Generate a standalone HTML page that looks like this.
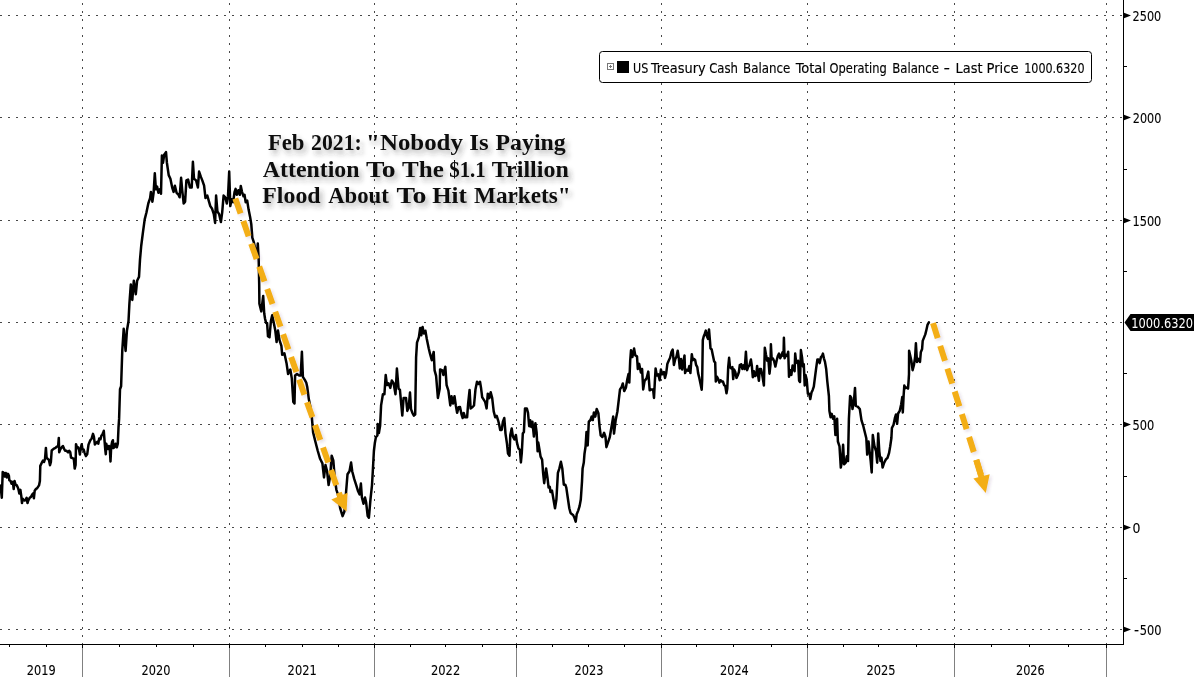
<!DOCTYPE html>
<html><head><meta charset="utf-8"><style>
html,body{margin:0;padding:0;background:#fff;}
body{width:1194px;height:677px;overflow:hidden;}
svg{display:block;}
.g{stroke:#484848;stroke-width:1;stroke-dasharray:2 6;shape-rendering:crispEdges;}
.gv{stroke:#484848;stroke-width:1;stroke-dasharray:2 6;stroke-dashoffset:-3;shape-rendering:crispEdges;}
.ar{stroke:#F0A81C;stroke-width:5.5;stroke-dasharray:15.5 8;}
text{font-family:"DejaVu Sans Condensed","DejaVu Sans",sans-serif;}
.yl{font-size:13.5px;fill:#000;stroke:#000;stroke-width:0.1px;}
.xl{font-size:13.5px;fill:#000;stroke:#000;stroke-width:0.1px;}
.lp{font-size:13.5px;fill:#fff;}
.lg{font-size:13.5px;fill:#000;stroke:#000;stroke-width:0.12px;}
.an text{font-family:"Liberation Serif",serif;font-weight:bold;font-size:22.3px;fill:#111;}
</style></head><body>
<svg width="1194" height="677" viewBox="0 0 1194 677">
<defs>
<filter id="tsh" x="-10%" y="-30%" width="120%" height="170%"><feGaussianBlur in="SourceAlpha" stdDeviation="2.5"/><feOffset dx="3" dy="4" result="b"/><feFlood flood-color="#303030" flood-opacity="0.35"/><feComposite in2="b" operator="in"/><feMerge><feMergeNode/><feMergeNode in="SourceGraphic"/></feMerge></filter>
<filter id="sh" x="-20%" y="-10%" width="140%" height="120%"><feGaussianBlur in="SourceAlpha" stdDeviation="1.5"/><feOffset dx="2" dy="2" result="b"/><feFlood flood-color="#503060" flood-opacity="0.15"/><feComposite in2="b" operator="in"/><feMerge><feMergeNode/><feMergeNode in="SourceGraphic"/></feMerge></filter>
</defs>
<rect width="1194" height="677" fill="#fff"/>
<line x1="0" y1="15.5" x2="1123" y2="15.5" class="g"/>
<line x1="0" y1="117.5" x2="1123" y2="117.5" class="g"/>
<line x1="0" y1="220.5" x2="1123" y2="220.5" class="g"/>
<line x1="0" y1="322.5" x2="1123" y2="322.5" class="g"/>
<line x1="0" y1="424.5" x2="1123" y2="424.5" class="g"/>
<line x1="0" y1="527.5" x2="1123" y2="527.5" class="g"/>
<line x1="0" y1="629.5" x2="1123" y2="629.5" class="g"/>
<line x1="82.5" y1="0" x2="82.5" y2="644" class="gv"/>
<line x1="229.5" y1="0" x2="229.5" y2="644" class="gv"/>
<line x1="374.5" y1="0" x2="374.5" y2="644" class="gv"/>
<line x1="516.5" y1="0" x2="516.5" y2="644" class="gv"/>
<line x1="661.5" y1="0" x2="661.5" y2="644" class="gv"/>
<line x1="807.5" y1="0" x2="807.5" y2="644" class="gv"/>
<line x1="954.5" y1="0" x2="954.5" y2="644" class="gv"/>
<line x1="1106.5" y1="0" x2="1106.5" y2="644" class="gv"/>
<path d="M0 485.4 L0.9 489 L1.8 497.8 L2.7 472.1 L4 473 L4.9 476.6 L5.8 473 L6.9 477.5 L8 473.9 L8.9 475.7 L9.3 480.1 L10.6 481 L11.5 483.7 L12.8 481.9 L13.7 489 L14.6 481 L15.5 484.5 L16.8 485.4 L17.7 487.2 L18.6 489.9 L19.3 493.4 L20.4 489.9 L21.3 496.1 L22 503.1 L22.6 498.7 L23.5 499.6 L24.6 500.5 L25.7 499.6 L26.6 497.8 L27.5 503.1 L28.3 500.5 L29.7 497.8 L31 496.9 L32.3 494.3 L33.2 493.4 L33.9 498.3 L34.7 490.7 L35.9 489 L37.2 488.1 L39 485.4 L39.9 481 L40.3 465.9 L41.8 462.7 L43 460.5 L44.1 461.9 L45 459 L45.9 447.9 L46.6 457.5 L47.8 459 L48.9 459.7 L50 465.3 L50.9 461.9 L51.7 450.5 L52.9 449.4 L54 448.6 L55.5 447.9 L57 446.4 L58.1 446.4 L58.8 437.9 L59.2 452.3 L60.3 449.4 L61.8 447.2 L62.9 446 L64 448.6 L65.1 450.8 L66.6 450.8 L68.1 452.3 L69.2 450.8 L70.3 452.3 L71 457.5 L72.5 458.2 L73.8 458.6 L74.7 468.6 L75.6 464.9 L76 444.2 L76.9 447.2 L78 447.2 L79.1 450.1 L79.9 454.5 L80.8 447.9 L81.7 444.2 L82.5 449.4 L83.6 449.4 L84.7 453.1 L85.9 456.1 L87.2 454.3 L88.5 444.6 L90.3 440.2 L91.7 438.4 L93 433.9 L93.9 436.6 L94.9 444.6 L96.1 442.8 L97.4 441.9 L98.3 443.7 L99.2 438.4 L100.5 439.3 L101.4 435.7 L102.3 434.8 L103 433.1 L103.8 430.8 L104.5 440.2 L105.2 449 L105.8 454.3 L106.3 443.7 L107.2 447.3 L108.2 449 L108.9 445.9 L109.8 449 L110.5 461.4 L111.2 446.4 L112.1 441.9 L112.9 440.2 L113.4 448.1 L114.3 447.3 L115.6 443.7 L116.8 447.3 L117.8 443.7 L118.5 427.7 L119.1 418.9 L120 389.2 L121.1 386.2 L122.3 350 L123.7 328.8 L125.6 351 L126.9 330.8 L128.5 321.2 L129.4 303.8 L130.8 284.6 L132.3 300 L133.8 280.8 L135.8 294.2 L137.1 280.8 L139 276.9 L140 259.6 L141.2 246 L143 231.8 L144.7 219.4 L146.5 212.3 L148.3 203.5 L150.1 198.1 L150.9 191.9 L152.4 201.7 L153.6 192.8 L154.8 173.3 L155.9 189.3 L157.1 186.6 L158.4 192.8 L159.8 189.3 L161 193.7 L161.9 155.6 L163 162.7 L164.2 154.7 L166 152.1 L166.9 162.7 L168.7 175.1 L170.4 178.7 L172.2 187.5 L173.6 191.9 L174.9 185.7 L176.6 192.8 L178.4 194.6 L179.6 197.3 L181.1 177.8 L182.3 191 L183.7 203.5 L185.1 201.7 L186.4 180.4 L188.1 179.5 L189.9 187.5 L191.7 187.5 L192.9 161.8 L194 178.7 L196.1 180.4 L197.9 187.5 L199.1 171.6 L200.9 176.9 L202.3 180.4 L204.1 185.7 L205.5 198.1 L207.3 195.5 L209 201.7 L210.3 206.1 L212.1 208.8 L213.8 214.1 L215.1 222.9 L216.1 195.5 L217.4 211.4 L219.1 214.1 L220.9 222.1 L222.2 212.3 L223.6 195.5 L225.3 197.3 L226.8 203.5 L228 196.4 L229.2 171.6 L230.3 206.1 L231.6 199.2 L233.1 202.2 L234.6 191.8 L235.6 188.9 L236.8 194.8 L238.3 190.3 L239.8 194.8 L240.8 185.9 L242 191.8 L243.5 196.3 L244.5 194.8 L245.7 202.2 L247.2 200.7 L248.6 209.6 L250.1 216.9 L251.3 224.3 L252.3 237.6 L253.8 242.1 L255.3 249.5 L256.8 256.8 L257.8 243.5 L258.7 259.8 L259.2 285 L259.4 303.7 L261.3 311.4 L263.2 296 L264.2 313.3 L265.1 319 L266.1 322.9 L267.1 322.9 L268 336.3 L269.5 337.3 L270.9 321 L272.2 315.2 L273.8 322.9 L275.3 330.6 L276.6 342.1 L278 330.6 L279.5 340.1 L281.4 345.9 L282.2 354.8 L284.4 353.3 L286.6 363.6 L288.1 374 L290.3 369.5 L291.8 378.4 L293.3 402 L294.5 403.5 L295.1 375.5 L297 374 L299.2 375.5 L300.7 375.5 L301.9 351.8 L302.9 376.9 L304.8 379.9 L306.3 382.8 L307.3 387.3 L308.8 399.1 L310.3 406.5 L311.8 416.8 L313.1 432.4 L315.4 441.7 L317.8 451 L320.1 458.8 L322.4 463.4 L324 477.4 L325.5 465 L327.1 471.2 L328.6 485.1 L330.2 475.8 L331.7 455.7 L333.3 460.3 L334.8 478.9 L336.4 489.8 L337.9 494.4 L340.2 508.4 L342.6 516.1 L344.4 511.5 L346 492.9 L347.5 474.3 L349.5 471.2 L351.1 462.6 L352.2 471.2 L354.2 478.9 L356.2 485.1 L358.1 491.3 L359.6 494.4 L360.9 483.6 L361.9 497.5 L363.5 503.7 L365 497.5 L366.1 502.2 L367.7 516.1 L368.9 517.7 L370.5 499.1 L372 485.1 L372.8 471.2 L373.9 451 L374.8 443.3 L375.9 437.1 L377.4 435.5 L377.7 423.9 L378.9 433.1 L380.1 425.7 L381.1 405.4 L382.9 394.3 L384.4 394.3 L385.7 375 L387 385.1 L388.5 383.3 L390.3 387.9 L391.8 380.5 L393.6 383.3 L395.5 394.3 L396.9 368.5 L398.6 388.8 L399.9 389.7 L401 401.7 L402.3 415.6 L403.6 398 L406 398 L407.3 410.9 L408.7 407.3 L410 392.5 L411 409.1 L412.4 412.8 L413.9 415.6 L415.2 414.6 L416.1 357.4 L417 342.7 L418.9 337.1 L420.2 327.9 L421.3 335.3 L422.6 327 L423.9 333.5 L425.4 330.7 L426.8 339 L428.7 348.2 L430 353.7 L431.8 360.2 L433.7 351.9 L434.6 370.4 L436.1 375.9 L437.9 398 L439.7 388.8 L440.1 369.4 L442.3 370.4 L443.4 375 L445.3 366.7 L446.6 385.1 L448.4 390.6 L450.3 405.4 L451.5 396.2 L453 403.6 L454.5 396.2 L455.8 405.4 L457.1 412.8 L458.6 407.3 L460 407 L461.5 414.3 L462.7 418 L463.7 412.9 L465.2 417.3 L467.1 417.3 L468.1 404 L469.6 390 L470.6 408.4 L472.6 407 L474 405.5 L475.5 389.2 L477 381.8 L478.5 384 L480 381.8 L481 387.7 L482.2 397.3 L483.7 399.6 L485.1 401.8 L486.6 408.4 L487.8 393.7 L489.3 398.1 L490.7 392.2 L492.2 398.1 L493.7 411.4 L495.2 417.3 L496.7 415.8 L498.1 420.3 L499.2 424.7 L500.2 429.9 L501.7 429.9 L502.9 421.7 L504.3 418 L505.5 433.6 L507 443.9 L508 453.5 L509.5 455.7 L510.3 435 L511.7 428.4 L512.9 436.5 L514.4 439.5 L515.9 435 L516.9 442.4 L518.4 448.3 L519.9 449.8 L520.9 462.4 L521.8 452.8 L522.8 433.6 L523.9 432.1 L525 408.4 L526.8 408.4 L528 412.9 L529.2 426.2 L530.2 420.3 L531.2 426.9 L532.4 421.7 L533.9 436.5 L535.4 423.2 L536.6 432.1 L537.6 451.3 L538.3 442.6 L539.4 449.2 L540.6 456.6 L542.1 459.6 L543.1 472.9 L544.2 483.2 L546.1 468.4 L547.6 478.8 L548.6 487.6 L549.8 486.9 L550.5 492.1 L552 490.6 L553.5 499.5 L555 508.3 L556.4 499.5 L557.9 472.9 L559.4 468.4 L560.9 461.8 L562.3 468.4 L563.8 484.7 L565.3 484.7 L566.3 487.6 L567.8 498 L569.3 508.3 L570.5 512.8 L572 514.3 L573.1 515 L574.2 517.2 L575.7 521.6 L576.7 514.3 L578.2 510.6 L579.6 506.1 L580.8 499.5 L582 481.7 L582.6 468.4 L583.8 462.5 L584.5 453.7 L585.6 446.3 L586.5 431.9 L587.7 445.5 L588.8 421.7 L590.5 420 L591.6 416.6 L592.8 420 L593.9 412.4 L595.3 416.6 L596.7 409 L598.4 413.2 L599.6 426.8 L600.7 435.3 L602.4 437 L604.1 432.8 L605.5 437 L606.4 447.2 L608.1 442.1 L609.8 437 L611.5 426.8 L613.2 416.6 L614 433.6 L615.7 420 L617.4 411.5 L618.8 399.6 L620 389.4 L621.7 386.9 L622.8 383.5 L624.2 391.1 L625.9 387.7 L627.3 379.2 L628.5 374.1 L629.3 382.6 L630.2 360.5 L631 350.3 L632.4 357.1 L634.1 348.6 L635.3 355.4 L637 356.3 L637.8 369 L639.2 363.9 L640.9 372.4 L642.1 369 L643.2 389.4 L644.6 380.9 L646.6 378.4 L648.3 371.6 L649.7 390.3 L651.4 389.4 L653.1 389.4 L654 397.9 L654.8 382.6 L655.6 368.4 L656.8 375.5 L658.3 374.3 L659.7 380.2 L660.9 369.6 L662.3 374.3 L663.9 372 L665 377.9 L666.2 373.1 L667.4 363.7 L668.9 360.2 L670.1 357.8 L671.5 351.9 L672.7 349.5 L673.9 364.9 L675.3 359 L676.5 356.6 L677.7 350.7 L678.9 359 L679.8 368.4 L681 359 L682.2 369.6 L683.3 362.5 L684.5 355.4 L685.1 373.1 L686.3 369.6 L688.1 370.8 L689.3 366.1 L690.4 373.1 L691.8 354.3 L692.8 360.2 L694 359 L695.2 360.2 L696.1 364.9 L697.3 367.2 L698.1 373.1 L699.3 377.9 L700.5 383.8 L701.7 389.7 L702.2 379.1 L702.8 340.1 L703.7 336.5 L704.6 334.2 L705.8 330.6 L707 336.5 L708.1 338.9 L709 329.4 L709.9 340.1 L710.5 348.3 L711.7 349.5 L712.9 355.4 L714.1 361.3 L715.2 362.5 L715.8 381.4 L717 376.7 L718.2 379.1 L719.4 382.6 L720.5 380.2 L721.7 381.4 L722.9 381.4 L724.1 385 L725.3 386.1 L726.5 393.2 L727.3 388.5 L728.2 367.2 L729.1 357.8 L730 367.2 L731.2 368.4 L732.4 367.2 L733.2 379.1 L734.1 369.6 L735.3 372 L736.5 377.9 L737.7 375.5 L738.9 372 L739.8 364.9 L740.6 366.6 L741.2 364.3 L742.4 369 L743.5 365.4 L744.7 369 L745.9 351.8 L747.1 370.2 L748.3 366.6 L749.4 365.4 L750.9 359.5 L751.8 365.4 L752.8 377.2 L753.9 371.3 L755.1 376.1 L756.3 374.9 L757.1 366 L758 374.9 L758.9 380.8 L759.8 369 L761 369 L761.8 372.5 L762.8 378.4 L763.9 385.5 L764.8 347.7 L766 354.8 L767.2 360.7 L768.3 358.3 L769.5 373.7 L770.5 364.3 L770.9 344.2 L771.7 359.5 L772.8 358.3 L774 360.7 L775.4 366.6 L776.6 360.7 L777.8 356 L779 353.6 L780.2 358.3 L781.3 356 L782.5 352.4 L783.5 356 L783.9 337.7 L784.6 358.3 L786.1 354.8 L787.2 356 L788.2 351.8 L789 376.7 L790.2 370.2 L791.4 374.9 L792.6 365.4 L793.7 367.8 L794.6 371.3 L795.2 353.6 L796.1 361.9 L797.3 363.1 L798.1 360.7 L799.1 380.8 L800 382 L800.9 350.1 L802 357.2 L803 366.6 L803.8 364.3 L804.7 385.5 L805.5 374.9 L806.7 379.6 L807.9 393.8 L809.1 393.8 L810.3 399.1 L811.5 392.6 L812.6 390.2 L813.8 386.7 L815 377.2 L816.2 367.8 L817.4 359.5 L818.5 359.5 L819.7 363.1 L820.9 357.2 L822.1 356 L822.9 353.6 L823.9 358.3 L825 361.9 L826.2 369 L827.3 381.4 L828.9 396 L829.4 410.7 L830.6 417.2 L831.7 413.9 L833 418.8 L834.3 416.3 L835.4 435 L837.1 418.8 L837.9 441.5 L839.5 446.4 L840.8 467.6 L842 461.1 L843.1 444.8 L844.1 464.3 L845.7 462.7 L846.8 456.2 L848 461.1 L848.9 418.8 L850.1 396 L851.2 397.6 L852.5 409 L853.8 402.5 L855 387.9 L855.8 405.8 L857.7 406.6 L859.8 409 L861.5 420.4 L863.1 425.3 L864.7 431.8 L866.3 438.3 L867.2 454.6 L868.5 441.5 L869.6 451.3 L870.7 461.1 L871.7 472.4 L872.8 435 L874.5 446.4 L876.1 451.3 L877.2 462.7 L878.2 433.4 L879.3 451.3 L880.5 461.1 L881.5 457.8 L882.6 467.6 L884.2 462.7 L885.9 459.4 L887.5 457.8 L889.1 452.9 L890.2 446.4 L891.4 438 L891.9 428 L893.5 424.9 L895 417.6 L896 414.5 L897.1 423.8 L898.1 413.5 L899.7 410.9 L901.2 404.2 L902.3 396.9 L902.8 412.5 L903.6 395.9 L904.3 385.5 L905.4 388.1 L906.7 387.6 L908 388.6 L908.5 382.4 L909 374.1 L909.1 350.7 L910.2 355.5 L911.3 360.4 L912.6 370.2 L913.9 365.3 L915.1 357.2 L915.9 343.3 L917 362 L918.3 358.8 L920 362 L920.8 352.3 L922.1 349 L922.7 340.9 L924 337.6 L925.3 334.4 L926.5 329.5 L927.6 324.6 L928.9 322.3" fill="none" stroke="#000" stroke-width="2.5" stroke-linejoin="round" stroke-linecap="round"/>
<g filter="url(#sh)">
<path d="M235.3 198.5L240.6 213.6M243.3 221.1L248.6 236.2M251.2 243.8L256.6 258.9M259.2 266.4L264.5 281.5M267.2 289L272.5 304.1M275.2 311.7L280.5 326.8M283.1 334.3L288.4 349.4M291.1 357L296.4 372.1M299.1 379.6L304.4 394.7M307 402.2L312.4 417.3M315 424.9L320.3 440M323 447.5L328.3 462.6M331 470.1L336.3 485.2M338.9 492.8L340.9 498.5" stroke="#F3AE18" stroke-width="6" fill="none"/>
<polygon points="331.3,499.6 347.6,492.8 346.6,511.6" fill="#F3AE18"/>
<path d="M933 323.1L937.7 338.1M940.2 345.9L945 360.9M947.4 368.7L952.2 383.6M954.7 391.5L959.4 406.4M961.9 414.2L966.6 429.2M969.1 437L973.8 452M976.3 459.8L981 474.8" stroke="#F3AE18" stroke-width="6" fill="none"/>
<line x1="976.3" y1="459.8" x2="981.4" y2="477" stroke="#F3AE18" stroke-width="6"/>
<polygon points="973.4,478.4 989.7,474.2 985.8,493" fill="#F3AE18"/>
</g>
<line x1="1123.5" y1="0" x2="1123.5" y2="645" stroke="#000" stroke-width="1"/>
<line x1="0" y1="644.5" x2="1124" y2="644.5" stroke="#000" stroke-width="1"/>
<polygon points="1124,12.7 1131,15.5 1124,18.3" fill="#000"/>
<text x="1132.57" y="20.8" class="yl" textLength="28.67" lengthAdjust="spacingAndGlyphs">2500</text>
<polygon points="1124,114.7 1131,117.5 1124,120.3" fill="#000"/>
<text x="1132.78" y="122.8" class="yl" textLength="28.56" lengthAdjust="spacingAndGlyphs">2000</text>
<polygon points="1124,217.7 1131,220.5 1124,223.3" fill="#000"/>
<text x="1132.46" y="225.8" class="yl" textLength="28.89" lengthAdjust="spacingAndGlyphs">1500</text>
<polygon points="1124,421.7 1131,424.5 1124,427.3" fill="#000"/>
<text x="1132.42" y="429.8" class="yl" textLength="21.73" lengthAdjust="spacingAndGlyphs">500</text>
<polygon points="1124,524.7 1131,527.5 1124,530.3" fill="#000"/>
<text x="1132.58" y="532.8" class="yl" textLength="7.94" lengthAdjust="spacingAndGlyphs">0</text>
<polygon points="1124,626.7 1131,629.5 1124,632.3" fill="#000"/>
<text x="1134.01" y="634.8" class="yl" textLength="5.06" lengthAdjust="spacingAndGlyphs">-</text>
<text x="1139.72" y="634.8" class="yl" textLength="21.73" lengthAdjust="spacingAndGlyphs">500</text>
<line x1="1124" y1="66.5" x2="1127" y2="66.5" stroke="#000" stroke-width="1"/>
<line x1="1124" y1="169.5" x2="1127" y2="169.5" stroke="#000" stroke-width="1"/>
<line x1="1124" y1="271.5" x2="1127" y2="271.5" stroke="#000" stroke-width="1"/>
<line x1="1124" y1="373.5" x2="1127" y2="373.5" stroke="#000" stroke-width="1"/>
<line x1="1124" y1="476.5" x2="1127" y2="476.5" stroke="#000" stroke-width="1"/>
<line x1="1124" y1="578.5" x2="1127" y2="578.5" stroke="#000" stroke-width="1"/>
<line x1="9.5" y1="645" x2="9.5" y2="647" stroke="#000" stroke-width="1"/>
<line x1="46.5" y1="645" x2="46.5" y2="647" stroke="#000" stroke-width="1"/>
<line x1="119.5" y1="645" x2="119.5" y2="647" stroke="#000" stroke-width="1"/>
<line x1="156.5" y1="645" x2="156.5" y2="647" stroke="#000" stroke-width="1"/>
<line x1="193.5" y1="645" x2="193.5" y2="647" stroke="#000" stroke-width="1"/>
<line x1="265.5" y1="645" x2="265.5" y2="647" stroke="#000" stroke-width="1"/>
<line x1="302.5" y1="645" x2="302.5" y2="647" stroke="#000" stroke-width="1"/>
<line x1="338.5" y1="645" x2="338.5" y2="647" stroke="#000" stroke-width="1"/>
<line x1="410.5" y1="645" x2="410.5" y2="647" stroke="#000" stroke-width="1"/>
<line x1="445.5" y1="645" x2="445.5" y2="647" stroke="#000" stroke-width="1"/>
<line x1="482.5" y1="645" x2="482.5" y2="647" stroke="#000" stroke-width="1"/>
<line x1="552.5" y1="645" x2="552.5" y2="647" stroke="#000" stroke-width="1"/>
<line x1="588.5" y1="645" x2="588.5" y2="647" stroke="#000" stroke-width="1"/>
<line x1="624.5" y1="645" x2="624.5" y2="647" stroke="#000" stroke-width="1"/>
<line x1="696.5" y1="645" x2="696.5" y2="647" stroke="#000" stroke-width="1"/>
<line x1="733.5" y1="645" x2="733.5" y2="647" stroke="#000" stroke-width="1"/>
<line x1="771.5" y1="645" x2="771.5" y2="647" stroke="#000" stroke-width="1"/>
<line x1="843.5" y1="645" x2="843.5" y2="647" stroke="#000" stroke-width="1"/>
<line x1="878.5" y1="645" x2="878.5" y2="647" stroke="#000" stroke-width="1"/>
<line x1="916.5" y1="645" x2="916.5" y2="647" stroke="#000" stroke-width="1"/>
<line x1="991.5" y1="645" x2="991.5" y2="647" stroke="#000" stroke-width="1"/>
<line x1="1029.5" y1="645" x2="1029.5" y2="647" stroke="#000" stroke-width="1"/>
<line x1="1068.5" y1="645" x2="1068.5" y2="647" stroke="#000" stroke-width="1"/>
<line x1="82.5" y1="645" x2="82.5" y2="648" stroke="#000" stroke-width="1"/>
<line x1="82.5" y1="648" x2="82.5" y2="677" stroke="#808080" stroke-width="1"/>
<line x1="229.5" y1="645" x2="229.5" y2="648" stroke="#000" stroke-width="1"/>
<line x1="229.5" y1="648" x2="229.5" y2="677" stroke="#808080" stroke-width="1"/>
<line x1="374.5" y1="645" x2="374.5" y2="648" stroke="#000" stroke-width="1"/>
<line x1="374.5" y1="648" x2="374.5" y2="677" stroke="#808080" stroke-width="1"/>
<line x1="516.5" y1="645" x2="516.5" y2="648" stroke="#000" stroke-width="1"/>
<line x1="516.5" y1="648" x2="516.5" y2="677" stroke="#808080" stroke-width="1"/>
<line x1="661.5" y1="645" x2="661.5" y2="648" stroke="#000" stroke-width="1"/>
<line x1="661.5" y1="648" x2="661.5" y2="677" stroke="#808080" stroke-width="1"/>
<line x1="807.5" y1="645" x2="807.5" y2="648" stroke="#000" stroke-width="1"/>
<line x1="807.5" y1="648" x2="807.5" y2="677" stroke="#808080" stroke-width="1"/>
<line x1="954.5" y1="645" x2="954.5" y2="648" stroke="#000" stroke-width="1"/>
<line x1="954.5" y1="648" x2="954.5" y2="677" stroke="#808080" stroke-width="1"/>
<line x1="1106.5" y1="645" x2="1106.5" y2="648" stroke="#000" stroke-width="1"/>
<line x1="1106.5" y1="648" x2="1106.5" y2="677" stroke="#808080" stroke-width="1"/>
<text x="26.77" y="675" class="xl" textLength="28.82" lengthAdjust="spacingAndGlyphs">2019</text>
<text x="141.57" y="675" class="xl" textLength="28.77" lengthAdjust="spacingAndGlyphs">2020</text>
<text x="287.61" y="675" class="xl" textLength="29.09" lengthAdjust="spacingAndGlyphs">2021</text>
<text x="431.01" y="675" class="xl" textLength="29.18" lengthAdjust="spacingAndGlyphs">2022</text>
<text x="574.52" y="675" class="xl" textLength="28.93" lengthAdjust="spacingAndGlyphs">2023</text>
<text x="720.08" y="675" class="xl" textLength="28.65" lengthAdjust="spacingAndGlyphs">2024</text>
<text x="866.51" y="675" class="xl" textLength="29.03" lengthAdjust="spacingAndGlyphs">2025</text>
<text x="1015.97" y="675" class="xl" textLength="28.73" lengthAdjust="spacingAndGlyphs">2026</text>
<polygon points="1124.5,322.5 1130.5,314 1194,314 1194,331 1130.5,331" fill="#000"/>
<text x="1131.3" y="328" class="lp" textLength="61.8" lengthAdjust="spacingAndGlyphs">1000.6320</text>
<rect x="599.5" y="51.5" width="492" height="31" rx="3" ry="3" fill="#fff" stroke="#000" stroke-width="1"/>
<rect x="607.5" y="63.5" width="6" height="6" fill="none" stroke="#777" stroke-width="1"/>
<line x1="609" y1="66.5" x2="612" y2="66.5" stroke="#777"/><line x1="610.5" y1="65" x2="610.5" y2="68" stroke="#777"/>
<rect x="617" y="61" width="12" height="12" fill="#000"/>
<text x="633.00" y="72.8" class="lg" textLength="15.20" lengthAdjust="spacingAndGlyphs">US</text>
<text x="651.00" y="72.8" class="lg" textLength="54.70" lengthAdjust="spacingAndGlyphs">Treasury</text>
<text x="709.20" y="72.8" class="lg" textLength="28.80" lengthAdjust="spacingAndGlyphs">Cash</text>
<text x="743.00" y="72.8" class="lg" textLength="47.30" lengthAdjust="spacingAndGlyphs">Balance</text>
<text x="795.70" y="72.8" class="lg" textLength="30.30" lengthAdjust="spacingAndGlyphs">Total</text>
<text x="829.60" y="72.8" class="lg" textLength="57.20" lengthAdjust="spacingAndGlyphs">Operating</text>
<text x="892.20" y="72.8" class="lg" textLength="46.80" lengthAdjust="spacingAndGlyphs">Balance</text>
<text x="943.40" y="72.8" class="lg" textLength="6.50" lengthAdjust="spacingAndGlyphs">-</text>
<text x="955.60" y="72.8" class="lg" textLength="26.90" lengthAdjust="spacingAndGlyphs">Last</text>
<text x="986.50" y="72.8" class="lg" textLength="32.10" lengthAdjust="spacingAndGlyphs">Price</text>
<text x="1024.20" y="72.8" class="lg" textLength="60.30" lengthAdjust="spacingAndGlyphs">1000.6320</text>
<g class="an" filter="url(#tsh)">
<text x="267.91" y="149.8" textLength="36.61" lengthAdjust="spacingAndGlyphs">Feb</text>
<text x="311.09" y="149.8" textLength="50.65" lengthAdjust="spacingAndGlyphs">2021:</text>
<text x="366.14" y="149.8" textLength="96.70" lengthAdjust="spacingAndGlyphs">"Nobody</text>
<text x="469.36" y="149.8" textLength="19.34" lengthAdjust="spacingAndGlyphs">Is</text>
<text x="495.59" y="149.8" textLength="70.14" lengthAdjust="spacingAndGlyphs">Paying</text>
<text x="262.87" y="176.8" textLength="96.69" lengthAdjust="spacingAndGlyphs">Attention</text>
<text x="365.90" y="176.8" textLength="29.77" lengthAdjust="spacingAndGlyphs">To</text>
<text x="402.11" y="176.8" textLength="41.74" lengthAdjust="spacingAndGlyphs">The</text>
<text x="449.26" y="176.8" textLength="36.52" lengthAdjust="spacingAndGlyphs">$1.1</text>
<text x="491.83" y="176.8" textLength="76.92" lengthAdjust="spacingAndGlyphs">Trillion</text>
<text x="262.29" y="203.4" textLength="58.28" lengthAdjust="spacingAndGlyphs">Flood</text>
<text x="328.18" y="203.4" textLength="60.62" lengthAdjust="spacingAndGlyphs">About</text>
<text x="396.60" y="203.4" textLength="29.98" lengthAdjust="spacingAndGlyphs">To</text>
<text x="432.17" y="203.4" textLength="34.64" lengthAdjust="spacingAndGlyphs">Hit</text>
<text x="474.00" y="203.4" textLength="96.76" lengthAdjust="spacingAndGlyphs">Markets"</text>
</g>
</svg>
</body></html>
